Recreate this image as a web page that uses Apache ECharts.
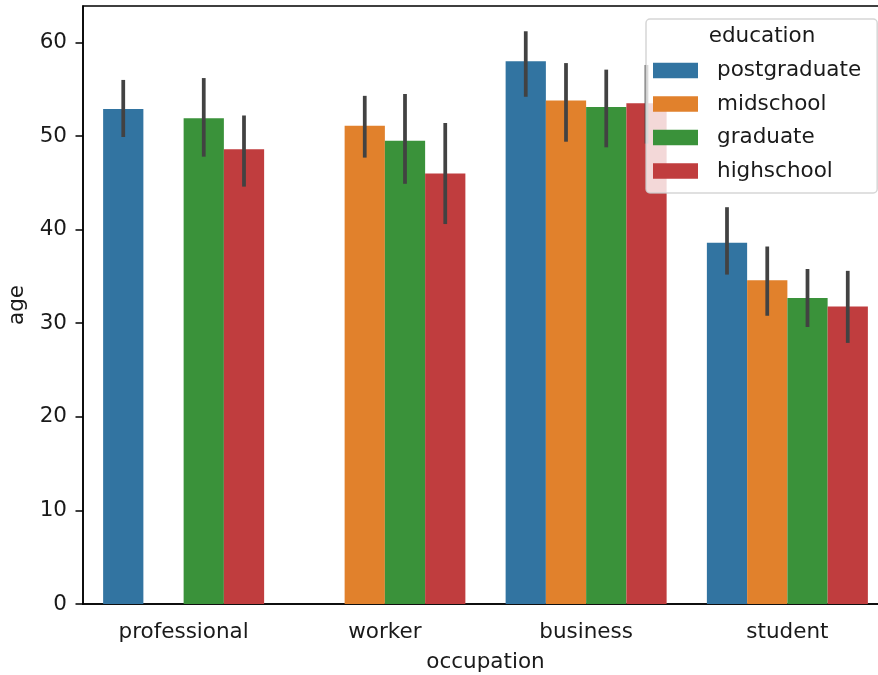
<!DOCTYPE html>
<html>
<head>
<meta charset="utf-8">
<script src="https://cdn.jsdelivr.net/npm/echarts@6/dist/echarts.min.js"></script>
<style>
  html, body { margin: 0; padding: 0; background: #fff; overflow: hidden; }
  #chart { width: 878px; height: 675px; }
</style>
</head>
<body>
<div id="chart"></div>
<script>
// Mean age by occupation, split by education level, with 95% CI error bars
const occupations = ['professional', 'worker', 'business', 'student'];
const educationLevels = ['postgraduate', 'midschool', 'graduate', 'highschool'];
const colors = ['#3274a1', '#e1812c', '#3a923a', '#c03d3e'];

// mean age per occupation (null = no observations for that group)
const postgraduate = [52.9, null, 58.0, 38.6];
const midschool    = [null, 51.1, 53.8, 34.6];
const graduate     = [51.9, 49.5, 53.1, 32.7];
const highschool   = [48.6, 46.0, 53.5, 31.8];

// confidence interval bounds [low, high]
const postgraduateCI = [[49.9, 56.0], null, [54.2, 61.2], [35.2, 42.4]];
const midschoolCI    = [null, [47.7, 54.3], [49.4, 57.8], [30.8, 38.2]];
const graduateCI     = [[47.8, 56.2], [44.9, 54.5], [48.8, 57.1], [29.6, 35.8]];
const highschoolCI   = [[44.6, 52.2], [40.6, 51.4], [49.2, 57.6], [27.9, 35.6]];

const yTicks = [0, 10, 20, 30, 40, 50, 60];

const means = [postgraduate, midschool, graduate, highschool];
const cis = [postgraduateCI, midschoolCI, graduateCI, highschoolCI];

const FONT = 'DejaVu Sans';
const FS = 21.5;
const TEXT = '#1a1a1a';

const errData = [];
cis.forEach((arr, h) => {
  arr.forEach((ci, c) => {
    if (ci) errData.push([c, h, ci[0], ci[1]]);
  });
});

const chart = echarts.init(document.getElementById('chart'), null, { renderer: 'canvas' });

const series = educationLevels.map((name, i) => ({
  name: name,
  type: 'bar',
  data: means[i],
  barGap: '0%',
  barCategoryGap: '20%',
  itemStyle: { color: colors[i] },
  z: 2
}));

series.push({
  name: 'ci',
  type: 'custom',
  z: 3,
  data: errData,
  encode: { x: 0, y: [2, 3] },
  renderItem: function (params, api) {
    const cat = api.value(0);
    const hue = api.value(1);
    const band = api.size([1, 0])[0];
    const offset = (hue - 1.5) * band * 0.2;
    const lo = api.coord([cat, api.value(2)]);
    const hi = api.coord([cat, api.value(3)]);
    const x = lo[0] + offset;
    return {
      type: 'line',
      shape: { x1: x, y1: lo[1], x2: x, y2: hi[1] },
      style: { stroke: '#424242', lineWidth: 3.75, lineCap: 'butt' }
    };
  }
});

chart.setOption({
  animation: false,
  backgroundColor: '#ffffff',
  grid: {
    // the axes extend slightly beyond the right edge of the canvas
    left: 83,
    top: 6,
    width: 805,
    height: 598,
    outerBoundsMode: 'none',
    containLabel: false,
    show: true,
    borderColor: '#000',
    borderWidth: 1.5,
    backgroundColor: 'transparent'
  },
  xAxis: {
    type: 'category',
    data: occupations,
    name: 'occupation',
    nameLocation: 'middle',
    nameGap: 47,
    nameTextStyle: { fontFamily: FONT, fontSize: FS, color: TEXT },
    axisLine: { lineStyle: { color: '#000', width: 1.5 } },
    axisTick: { alignWithLabel: true, length: 7.5, lineStyle: { color: '#000', width: 1.5 } },
    axisLabel: { fontFamily: FONT, fontSize: FS, color: TEXT, margin: 17 },
    splitLine: { show: false }
  },
  yAxis: {
    type: 'value',
    min: 0,
    max: 63.9,
    interval: 10,
    name: 'age',
    nameLocation: 'middle',
    nameGap: 52,
    nameTextStyle: { fontFamily: FONT, fontSize: FS, color: TEXT },
    axisLine: { show: true, lineStyle: { color: '#000', width: 1.5 } },
    axisTick: { show: true, length: 7.5, lineStyle: { color: '#000', width: 1.5 } },
    axisLabel: {
      fontFamily: FONT, fontSize: FS, color: TEXT, margin: 16,
      showMaxLabel: false,
      formatter: v => (yTicks.indexOf(v) >= 0 ? String(v) : '')
    },
    splitLine: { show: false }
  },
  legend: {
    data: educationLevels,
    orient: 'vertical',
    left: 646,
    top: 19,
    padding: [40.5, 16, 11, 7],
    itemWidth: 45,
    itemHeight: 15.5,
    itemGap: 11.5,
    backgroundColor: 'rgba(255,255,255,0.8)',
    borderColor: 'rgba(204,204,204,0.8)',
    borderWidth: 1.5,
    borderRadius: 4,
    icon: 'rect',
    selectedMode: false,
    textStyle: {
      fontFamily: FONT, fontSize: FS, color: TEXT,
      lineHeight: 20,
      padding: [0, 0, 0, 14]
    },
    z: 10
  },
  graphic: [{
    type: 'text',
    z: 100,
    style: {
      text: 'education',
      x: 762,
      y: 36,
      align: 'center',
      verticalAlign: 'middle',
      font: FS + 'px "' + FONT + '"',
      fill: TEXT
    }
  }],
  series: series
});
</script>
</body>
</html>
